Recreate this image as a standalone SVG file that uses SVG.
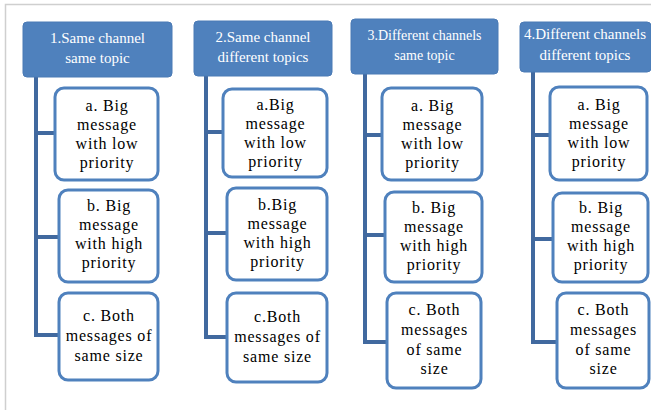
<svg xmlns="http://www.w3.org/2000/svg" width="651" height="410" viewBox="0 0 651 410">
<style>
.hd{fill:#4f81bd;stroke:#4a7ab5;stroke-width:1}
.ht{fill:#ffffff;font-family:"Liberation Serif",serif;font-size:15px;text-anchor:middle}
.bx{fill:#ffffff;stroke:#4f81bd;stroke-width:3}
.bt{fill:#000000;font-family:"Liberation Serif",serif;font-size:16px;letter-spacing:0.8px;text-anchor:middle}
.cn{fill:none;stroke:#41699f;stroke-width:4}
</style>
<rect width="651" height="410" fill="#ffffff"/>
<path d="M5.5 410V4.5H651" fill="none" stroke="#cfcfcf" stroke-width="1.5"/>
<g id="connectors">
<path class="cn" d="M36 77V335H59M36 133H55M36 237H59"/>
<path class="cn" d="M206 76V337H227M206 132H223M206 233H227"/>
<path class="cn" d="M365 74V342H387M365 135H382M365 235H385"/>
<path class="cn" d="M533 72V342H557M533 135H550M533 239H553"/>
</g>
<g id="h1"><rect class="hd" x="23" y="22" width="149" height="55" rx="4"/><text class="ht" x="97.5" y="43">1.Same channel</text><text class="ht" x="97.5" y="63">same topic</text></g>
<g id="h2"><rect class="hd" x="194" y="21" width="138" height="55" rx="4"/><text class="ht" x="263" y="42">2.Same channel</text><text class="ht" x="263" y="62">different topics</text></g>
<g id="h3"><rect class="hd" x="351" y="19" width="147" height="55" rx="4"/><text class="ht" x="424.5" y="40" style="font-size:14px">3.Different channels</text><text class="ht" x="424.5" y="60" style="font-size:14px">same topic</text></g>
<g id="h4"><rect class="hd" x="520" y="22" width="131" height="50" rx="4"/><text class="ht" x="585" y="39">4.Different channels</text><text class="ht" x="585" y="60">different topics</text></g>

<g id="c1a"><rect class="bx" x="55" y="88" width="103" height="92" rx="9"/><text class="bt" x="107" y="111">a. Big</text><text class="bt" x="107" y="130">message</text><text class="bt" x="107" y="149">with low</text><text class="bt" x="107" y="168">priority</text></g>
<g id="c1b"><rect class="bx" x="59" y="190" width="99" height="92" rx="9"/><text class="bt" x="109" y="211">b. Big</text><text class="bt" x="109" y="230">message</text><text class="bt" x="109" y="249">with high</text><text class="bt" x="109" y="268">priority</text></g>
<g id="c1c"><rect class="bx" x="59" y="293" width="99" height="87" rx="9"/><text class="bt" x="109" y="321">c. Both</text><text class="bt" x="109" y="341">messages of</text><text class="bt" x="109" y="361">same size</text></g>

<g id="c2a"><rect class="bx" x="223" y="89" width="104" height="88" rx="9"/><text class="bt" x="275.5" y="110">a.Big</text><text class="bt" x="275.5" y="129">message</text><text class="bt" x="275.5" y="148">with low</text><text class="bt" x="275.5" y="167">priority</text></g>
<g id="c2b"><rect class="bx" x="227" y="188" width="100" height="92" rx="9"/><text class="bt" x="277.5" y="210">b.Big</text><text class="bt" x="277.5" y="229">message</text><text class="bt" x="277.5" y="248">with high</text><text class="bt" x="277.5" y="267">priority</text></g>
<g id="c2c"><rect class="bx" x="227" y="293" width="100" height="89" rx="9"/><text class="bt" x="277.5" y="322">c.Both</text><text class="bt" x="277.5" y="342">messages of</text><text class="bt" x="277.5" y="362">same size</text></g>

<g id="c3a"><rect class="bx" x="382" y="88" width="100" height="92" rx="9"/><text class="bt" x="432.5" y="111">a. Big</text><text class="bt" x="432.5" y="130">message</text><text class="bt" x="432.5" y="149">with low</text><text class="bt" x="432.5" y="168">priority</text></g>
<g id="c3b"><rect class="bx" x="385" y="192" width="97" height="90" rx="9"/><text class="bt" x="434" y="213">b. Big</text><text class="bt" x="434" y="232">message</text><text class="bt" x="434" y="251">with high</text><text class="bt" x="434" y="270">priority</text></g>
<g id="c3c"><rect class="bx" x="387" y="293" width="94" height="95" rx="9"/><text class="bt" x="434.5" y="315">c. Both</text><text class="bt" x="434.5" y="335">messages</text><text class="bt" x="434.5" y="355">of same</text><text class="bt" x="434.5" y="374">size</text></g>

<g id="c4a"><rect class="bx" x="550" y="87" width="97" height="93" rx="9"/><text class="bt" x="599" y="110">a. Big</text><text class="bt" x="599" y="129">message</text><text class="bt" x="599" y="148">with low</text><text class="bt" x="599" y="167">priority</text></g>
<g id="c4b"><rect class="bx" x="553" y="193" width="95" height="89" rx="9"/><text class="bt" x="601" y="213">b. Big</text><text class="bt" x="601" y="232">message</text><text class="bt" x="601" y="251">with high</text><text class="bt" x="601" y="270">priority</text></g>
<g id="c4c"><rect class="bx" x="557" y="293" width="92" height="95" rx="9"/><text class="bt" x="603.5" y="315">c. Both</text><text class="bt" x="603.5" y="335">messages</text><text class="bt" x="603.5" y="355">of same</text><text class="bt" x="603.5" y="374">size</text></g>
</svg>
